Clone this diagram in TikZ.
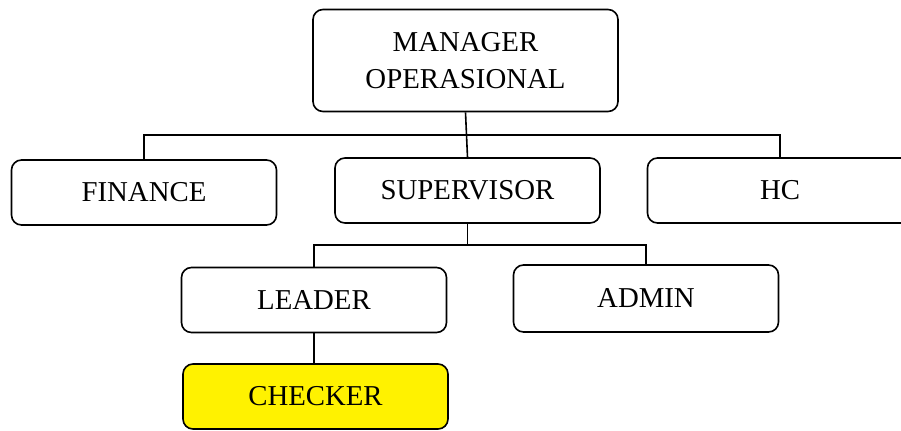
\documentclass[tikz,border=0pt]{standalone}
\usepackage{fontspec}
\setmainfont{Liberation Serif}
\usepackage{tikz}
\usetikzlibrary{calc,positioning}
\newdimen\px
\px=0.5pt
\tikzstyle{unit}=[
  draw=black,
  line width=0.8pt,
  rounded corners=5pt,
  align=center,
  inner sep=0pt,
  font={\fontsize{14.4}{18.5}\selectfont},
  minimum width=265*\px,
  minimum height=65*\px,
]
\tikzstyle{link}=[
  draw=black,
  line width=0.8pt,
]
\tikzset{
  x=\px,
  y=-\px,
}

\begin{document}
\begin{tikzpicture}
  \useasboundingbox (0,0) rectangle (901,430);
  \node [unit, minimum width=305*\px, minimum height=102*\px] (mgr)
  at (465.5,60.5) {MANAGER\\OPERASIONAL};
  \node [unit] (fin) at (144,192.5) {FINANCE};
  \node [unit] (sup) at (467.5,190.5) {SUPERVISOR};
  \node [unit] (hc) at (780,190.5) {HC};
  \node [unit] (lead) at (314,300) {LEADER};
  \node [unit, minimum height=67*\px] (adm) at (646,298.5) {ADMIN};
  \node [unit, fill=yellow] (chk) at (315.5,396.5) {CHECKER};
  % lines
  \coordinate (bus1) at ($(mgr.south)!.5!(sup.north)$);
  \coordinate (bus2) at ($(sup.south)!.5!(lead.north)$);
  \draw [link] (mgr.south) -- (sup.north);
  \draw [link] (fin.north) |- (bus1) -| (hc.north);
  \draw [link] (sup.south) -- (sup.south|-bus2);
  \draw [link] (lead.north) |- (bus2) -| (adm.north);
  \draw [link] (lead.south) -- (lead.south|-chk.north);
\end{tikzpicture}
\end{document}
